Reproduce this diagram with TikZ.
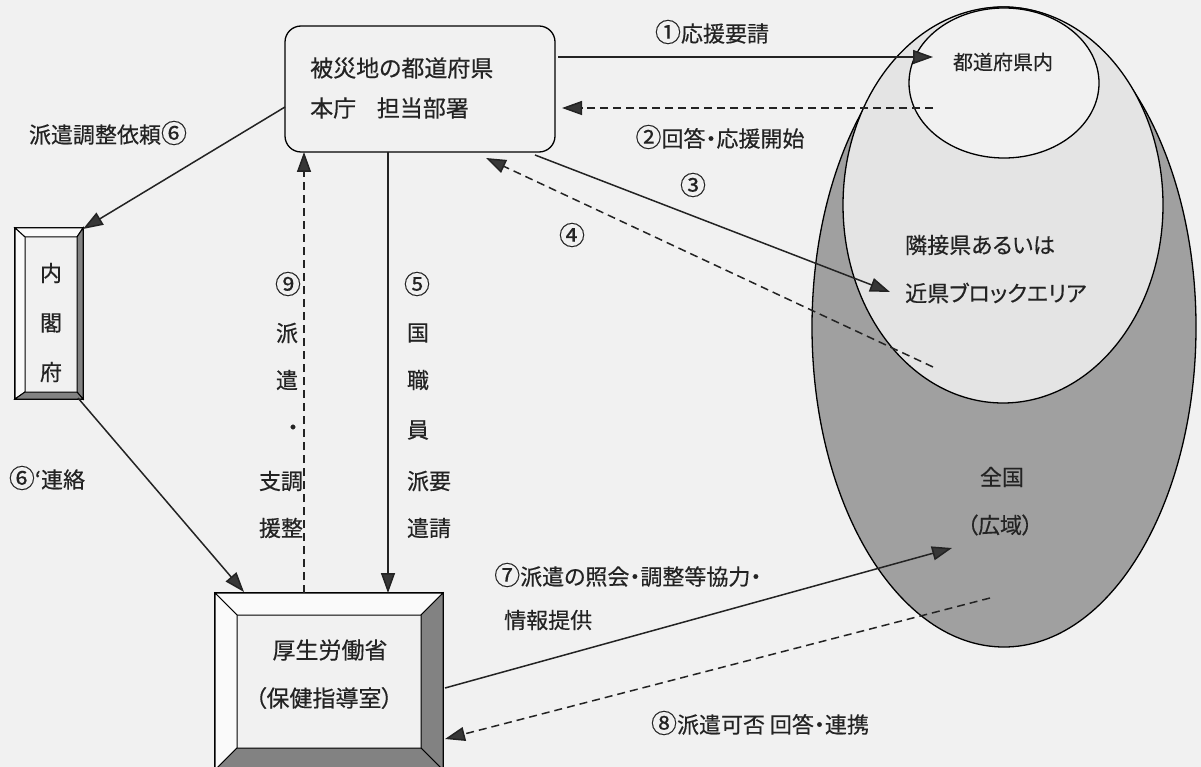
\documentclass[tikz,border=0pt]{standalone}
\usepackage{fontspec}
\setmainfont{Noto Sans CJK JP}[RawFeature={+palt}, FakeBold=0.4]
\usetikzlibrary{arrows.meta,shapes.geometric}
\definecolor{bg}{RGB}{241,241,241}
\definecolor{ink}{RGB}{35,35,35}
\definecolor{zen}{RGB}{160,160,160}
\definecolor{rin}{RGB}{228,228,228}
\definecolor{bevdark}{RGB}{130,130,130}
\definecolor{bevlite}{RGB}{250,250,250}
\definecolor{tipc}{RGB}{55,55,55}
\newcommand\cnum[1]{{\fontsize{26pt}{26pt}\selectfont #1}}
\tikzset{
  lbl/.style={font=\fontsize{22pt}{26pt}\selectfont, inner sep=0pt, text=ink},
  conn/.style={draw=ink, line width=1.5pt, -{Triangle[length=20pt,width=14pt,fill=tipc]}},
  dconn/.style={conn, dash pattern=on 8pt off 5pt},
  region/.style={ellipse, draw=black, line width=1.3pt, inner sep=0pt, outer sep=0pt},
  bevout/.style={draw=black, line width=1.3pt, fill=bg, inner sep=0pt, outer sep=0pt},
  bevdk/.style={draw=black, line width=1pt, fill=bevdark},
  bevlt/.style={draw=black, line width=1pt, fill=bevlite},
  roundbox/.style={draw=black, line width=1.3pt, fill=bg, rounded corners=16pt, inner sep=0pt, outer sep=0pt}
}
\begin{document}
\begin{tikzpicture}[x=1pt,y=-1pt]
\fill[bg] (0,0) rectangle (1201,767);
\clip (0,0) rectangle (1201,767);
\useasboundingbox (0,0) rectangle (1201,767);

% regions
\node[region, fill=zen, minimum width=384pt, minimum height=640pt] (zenkoku) at (1004,327) {};
\node[region, fill=rin, minimum width=320pt, minimum height=396pt] (rinsetsu) at (1003,205) {};
\node[region, fill=bg, minimum width=190pt, minimum height=150pt] (naibu) at (1004,83) {};
\node[lbl, font=\fontsize{20pt}{24pt}\selectfont] (tnaibu) at (1003,62) {都道府県内};
\node[lbl, anchor=west] (trin1) at (905,245) {隣接県あるいは};
\node[lbl, anchor=west] (trin2) at (905,293) {近県ブロックエリア};
\node[lbl] (tzen1) at (1002,477) {全国};
\node[lbl] (tzen2) at (1000,525) {（広域）};

% prefecture box
\node[roundbox, minimum width=270pt, minimum height=126pt] (pref) at (420,89) {};
\node[lbl, anchor=west, font=\fontsize{23pt}{27pt}\selectfont] (tpref1) at (310,68) {被災地の都道府県};
\node[lbl, anchor=west, font=\fontsize{23pt}{27pt}\selectfont] (tpref2) at (310,108) {本庁\hspace{0.9em}担当部署};

% cabinet office box
\node[bevout, minimum width=68pt, minimum height=171pt] (cab) at (49,313.5) {};
\draw[bevlt] (15,228) -- (83,228) -- (77,237) -- (25,237) -- cycle;
\draw[bevlt] (15,228) -- (25,237) -- (25,392) -- (15,399) -- cycle;
\draw[bevdk] (83,228) -- (83,399) -- (77,392) -- (77,237) -- cycle;
\draw[bevdk] (15,399) -- (83,399) -- (77,392) -- (25,392) -- cycle;
\node[lbl] (tcab1) at (51,273) {内};
\node[lbl] (tcab2) at (51,323) {閣};
\node[lbl] (tcab3) at (51,372) {府};

% ministry box
\node[bevout, minimum width=228pt, minimum height=177pt] (mhlw) at (329,681.5) {};
\draw[bevlt] (215,593) -- (443,593) -- (421,615) -- (237,615) -- cycle;
\draw[bevlt] (215,593) -- (237,615) -- (237,748) -- (215,770) -- cycle;
\draw[bevdk] (443,593) -- (443,770) -- (421,748) -- (421,615) -- cycle;
\draw[bevdk] (215,770) -- (443,770) -- (421,748) -- (237,748) -- cycle;
\node[lbl, font=\fontsize{23pt}{27pt}\selectfont] (tm1) at (330,650) {厚生労働省};
\node[lbl, font=\fontsize{23pt}{27pt}\selectfont] (tm2) at (324,698) {（保健指導室）};

% free ends
\coordinate (a1s) at (558,57);   \coordinate (a1e) at (933,57);
\coordinate (a2s) at (933,108);  \coordinate (a2e) at (562,108);
\coordinate (a3s) at (535,155);  \coordinate (a3e) at (890,292);
\coordinate (a4s) at (933,367);  \coordinate (a4e) at (486,158);
\coordinate (a5s) at (388,152);  \coordinate (a5e) at (388,593);
\coordinate (a9s) at (304,593);  \coordinate (a9e) at (304,152);
\coordinate (a6s) at (285,107);  \coordinate (a6e) at (83,229);
\coordinate (a6bs) at (78,398);  \coordinate (a6be) at (244,592);
\coordinate (a7s) at (445,688);  \coordinate (a7e) at (952,548);
\coordinate (a8s) at (990,598);  \coordinate (a8e) at (445,739);

\draw[conn] (a1s) -- (a1e);
\draw[dconn] (a2s) -- (a2e);
\draw[conn] (a3s) -- (a3e);
\draw[dconn] (a4s) -- (a4e);
\draw[conn] (a5s) -- (a5e);
\draw[dconn] (a9s) -- (a9e);
\draw[conn] (a6s) -- (a6e);
\draw[conn] (a6bs) -- (a6be);
\draw[conn] (a7s) -- (a7e);
\draw[dconn] (a8s) -- (a8e);

% labels
\node[lbl] (l1) at (712,32) {\cnum{①}応援要請};
\node[lbl] (l2) at (720,137) {\cnum{②}回答・応援開始};
\node[lbl] (l3) at (693,185) {\cnum{③}};
\node[lbl] (l4) at (572,235) {\cnum{④}};
\node[lbl] (l6) at (108,133) {派遣調整依頼\cnum{⑥}};
\node[lbl] (l6b) at (47,478) {\cnum{⑥}‘連絡};
\node[lbl, anchor=west] (l7a) at (494,575) {\cnum{⑦}派遣の照会・調整等協力・};
\node[lbl, anchor=west] (l7b) at (504,620) {情報提供};
\node[lbl] (l8) at (760,723) {\cnum{⑧}派遣可否 回答・連携};

% vertical labels
\node[lbl] (v9a) at (288,284) {\cnum{⑨}};
\node[lbl] (v9b) at (287,333) {派};
\node[lbl] (v9c) at (287,380) {遣};
\node[lbl] (v9d) at (293,430) {・};
\node[lbl] (v9e) at (281,481) {支調};
\node[lbl] (v9f) at (281,528) {援整};
\node[lbl] (v5a) at (417,284) {\cnum{⑤}};
\node[lbl] (v5b) at (418,333) {国};
\node[lbl] (v5c) at (418,380) {職};
\node[lbl] (v5d) at (418,430) {員};
\node[lbl] (v5e) at (429,481) {派要};
\node[lbl] (v5f) at (429,528) {遣請};
\end{tikzpicture}
\end{document}
